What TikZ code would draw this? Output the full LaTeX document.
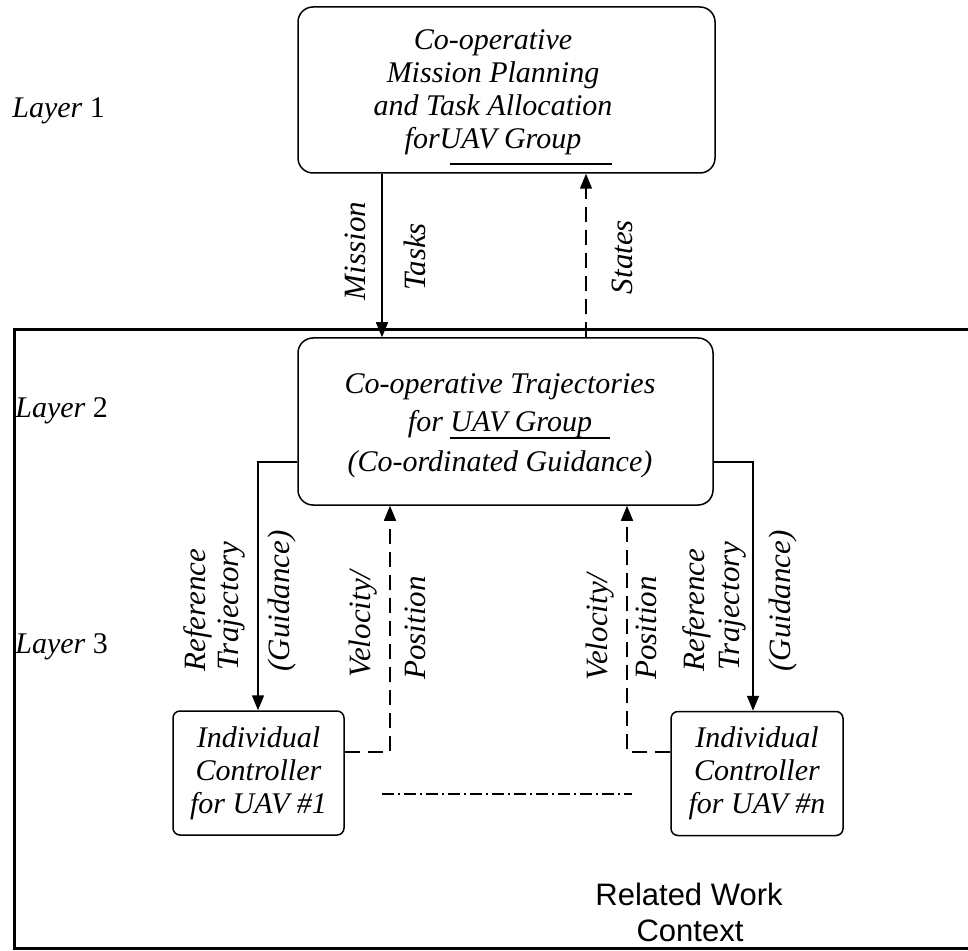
\documentclass[tikz,border=0pt]{standalone}
\usepackage{fontspec}
\setmainfont{Liberation Serif}
\setsansfont{Liberation Sans}
\usetikzlibrary{arrows.meta}
\begin{document}
\begin{tikzpicture}[x=0.5pt,y=-0.5pt,
  txt/.style={font=\fontsize{15}{16.5}\selectfont\itshape, inner sep=0pt},
  rlab/.style={font=\fontsize{15.5}{16.5}\selectfont\itshape, inner sep=0pt, rotate=90},
  bigbox/.style={draw, line width=0.75pt, rounded corners=7.5pt, inner sep=0pt},
  smallbox/.style={draw, line width=0.75pt, rounded corners=3.5pt, inner sep=0pt, align=center,
    font=\fontsize{15}{16.5}\selectfont\itshape, minimum height=62pt},
  conn/.style={line width=0.75pt},
  tip/.style={-{Triangle[length=7.5pt,width=6pt]}},
  dsh/.style={dash pattern=on 7.5pt off 4pt},
  ddot/.style={dash pattern=on 6pt off 2pt on 1pt off 2pt},
  rwt/.style={font=\sffamily\fontsize{15.5}{18.5}\selectfont, inner sep=0pt, anchor=base}
]
\useasboundingbox (0,0) rectangle (968,951);
% frame
\draw[line width=1.5pt] (975,330) -- (14,330) -- (14,948) -- (975,948);
% layer labels
\node[txt, anchor=west] (l1lab) at (12,111) {Layer \upshape 1};
\node[txt, anchor=west] (l2lab) at (15,411) {Layer \upshape 2};
\node[txt, anchor=west] (l3lab) at (15,647) {Layer \upshape 3};
% top box
\node[bigbox, minimum width=208.5pt, minimum height=83pt] (top) at (506.5,90) {};
\node[txt, align=center] (toptxt) at (493,92) {Co-operative\\Mission Planning\\and Task Allocation\\forUAV Group};
\draw[line width=1pt] (450,164) -- (612,164);
% layer 2 box
\node[bigbox, minimum width=207.5pt, minimum height=83.5pt] (l2) at (505.5,421.5) {};
\node[txt, align=center] (l2txt) at (500,426) {Co-operative Trajectories\\[2.5pt] for UAV Group\\[3.5pt](Co-ordinated Guidance)};
\draw[line width=1pt] (450,438) -- (610,438);
% UAV boxes
\node[smallbox, minimum width=85.5pt] (u1) at (258.5,773) {Individual\\Controller\\for UAV \#1};
\node[smallbox, minimum width=86pt] (un) at (757,773.5) {Individual\\Controller\\for UAV \#n};
% layer1 <-> layer2
\coordinate (mx) at (382,0);
\coordinate (sx) at (586,0);
\draw[conn, tip] (top.south -| mx) -- (l2.north -| mx);
\draw[conn, tip, dsh] (l2.north -| sx) -- (top.south -| sx);
\node[rlab] (mis) at (355,251) {Mission};
\node[rlab] (tsk) at (415,257) {Tasks};
\node[rlab] (sts) at (622,257) {States};
% guidance lines
\coordinate (gl) at (258,462);
\coordinate (gr) at (753,462);
\draw[conn, tip] (l2.west |- gl) -- (gl) -- (gl |- u1.north);
\draw[conn, tip] (l2.east |- gr) -- (gr) -- (gr |- un.north);
% feedback
\coordinate (vl) at (390,752);
\coordinate (vr) at (627,752);
\draw[conn, tip, dsh] (u1.east |- vl) -- (vl) -- (vl |- l2.south);
\draw[conn, tip, dsh] (un.west |- vr) -- (vr) -- (vr |- l2.south);
% dash-dot
\coordinate (d1) at (382,794);
\coordinate (d2) at (632,794);
\draw[conn, ddot] (d1) -- (d2);
% rotated labels left
\node[rlab] (ref1) at (198,610) {Reference};
\node[rlab] (tra1) at (232,606) {Trajectory};
\node[rlab] (gui1) at (282,601) {(Guidance)};
\node[rlab] (vel1) at (363,624) {Velocity/};
\node[rlab] (pos1) at (415,628) {Position};
% rotated labels right
\node[rlab] (vel2) at (600,627) {Velocity/};
\node[rlab] (pos2) at (646,628) {Position};
\node[rlab] (ref2) at (697,610) {Reference};
\node[rlab] (tra2) at (733,606) {Trajectory};
\node[rlab] (gui2) at (783,601) {(Guidance)};
% related work
\node[rwt] (rw1) at (689,905) {Related Work};
\node[rwt] (rw2) at (690,941) {Context};
\end{tikzpicture}
\end{document}
